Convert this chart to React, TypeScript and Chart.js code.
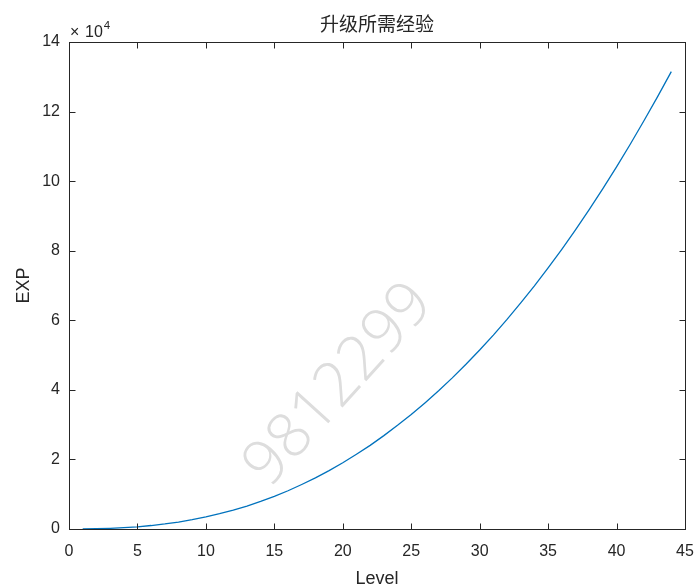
import React, { useEffect, useRef } from "react";
import { Chart, registerables } from "chart.js";

Chart.register(...registerables);

const levels = [
  1, 2, 3, 4, 5, 6, 7, 8, 9, 10, 11, 12, 13, 14, 15, 16, 17, 18, 19, 20, 21, 22,
  23, 24, 25, 26, 27, 28, 29, 30, 31, 32, 33, 34, 35, 36, 37, 38, 39, 40, 41, 42, 43, 44,
];
const expValues = [
  10, 70, 180, 370, 640, 1000, 1450, 2000, 2700, 3500, 4400, 5450, 6600, 7950, 9400,
  11000, 12800, 14700, 16800, 19050, 21500, 24050, 26850, 29800, 32900, 36250, 39750,
  43450, 47350, 51450, 55750, 60250, 65000, 69900, 75050, 80400, 86000, 91800, 97850,
  104100, 110600, 117350, 124300, 131500,
];
const xTicks = [0, 5, 10, 15, 20, 25, 30, 35, 40, 45];
const yTicks = [0, 20000, 40000, 60000, 80000, 100000, 120000, 140000];
const titleText = "升级所需经验";
const xLabel = "Level";
const yLabel = "EXP";
const watermark = "9812299";

const AXIS = "#262626";

const decorPlugin = {
  id: "decor",
  beforeDatasetsDraw(chart: any) {
    const ctx = chart.ctx;
    const area = chart.chartArea;
    ctx.save();
    ctx.beginPath();
    ctx.rect(area.left, area.top, area.right - area.left, area.bottom - area.top);
    ctx.clip();
    ctx.translate(339, 385);
    ctx.rotate((-48 * Math.PI) / 180);
    ctx.fillStyle = "#dddddd";
    ctx.font = '300 62px "Open Sans", "DejaVu Sans", sans-serif';
    ctx.textAlign = "center";
    ctx.textBaseline = "middle";
    ctx.fillText(watermark, 0, 0);
    ctx.restore();
  },
  afterDraw(chart: any) {
    const ctx = chart.ctx;
    const area = chart.chartArea;
    const xs = chart.scales.x;
    const ys = chart.scales.y;
    ctx.save();
    ctx.strokeStyle = AXIS;
    ctx.lineWidth = 1;
    const L = Math.round(area.left) + 0.5;
    const R = Math.round(area.right) + 0.5;
    const T = Math.round(area.top) + 0.5;
    const B = Math.round(area.bottom) + 0.5;
    ctx.strokeRect(L, T, R - L, B - T);
    const tl = 6;
    ctx.beginPath();
    xTicks.forEach((v) => {
      const px = Math.round(xs.getPixelForValue(v)) + 0.5;
      ctx.moveTo(px, B);
      ctx.lineTo(px, B - tl);
      ctx.moveTo(px, T);
      ctx.lineTo(px, T + tl);
    });
    yTicks.forEach((v) => {
      const py = Math.round(ys.getPixelForValue(v)) + 0.5;
      ctx.moveTo(L, py);
      ctx.lineTo(L + tl, py);
      ctx.moveTo(R, py);
      ctx.lineTo(R - tl, py);
    });
    ctx.stroke();

    ctx.fillStyle = AXIS;
    // title
    ctx.font = '19px "Noto Sans CJK SC", sans-serif';
    ctx.textAlign = "center";
    ctx.textBaseline = "middle";
    ctx.fillText(titleText, (area.left + area.right) / 2, 24);

    // x label
    ctx.font = '18px "Liberation Sans", Arial, sans-serif';
    ctx.textBaseline = "alphabetic";
    ctx.fillText(xLabel, (area.left + area.right) / 2, 584);

    // y label
    ctx.save();
    ctx.translate(28.5, (area.top + area.bottom) / 2);
    ctx.rotate(-Math.PI / 2);
    ctx.fillText(yLabel, 0, 0);
    ctx.restore();

    // exponent
    ctx.textAlign = "left";
    ctx.font = '16px "Liberation Sans", Arial, sans-serif';
    const x0 = area.left + 1;
    ctx.fillText("\u00d7", x0, 37);
    ctx.fillText("10", x0 + 15, 37);
    const w = ctx.measureText("10").width;
    ctx.font = '11.5px "Liberation Sans", Arial, sans-serif';
    ctx.fillText("4", x0 + 15 + w + 1, 29);
    ctx.restore();
  },
};

export default function App() {
  const ref = useRef<HTMLCanvasElement | null>(null);
  useEffect(() => {
    if (!ref.current) return;
    const chart = new Chart(ref.current, {
      type: "line",
      data: {
        datasets: [
          {
            data: levels.map((l, i) => ({ x: l, y: expValues[i] })),
            borderColor: "#0072BD",
            borderWidth: 1.3,
            pointRadius: 0,
            tension: 0,
            fill: false,
          },
        ],
      },
      options: {
        responsive: false,
        animation: false,
        layout: { padding: { top: 42, right: 12, left: 0, bottom: 0 } },
        plugins: {
          legend: { display: false },
          tooltip: { enabled: false },
          title: { display: false },
        },
        scales: {
          x: {
            type: "linear",
            min: 0,
            max: 45,
            afterBuildTicks: (s: any) => {
              s.ticks = xTicks.map((v) => ({ value: v }));
            },
            afterFit: (s: any) => {
              s.height = 57;
              s.paddingRight = 0;
              s.paddingLeft = 0;
            },
            grid: { display: false, drawTicks: false },
            border: { display: false },
            ticks: {
              padding: 13,
              color: AXIS,
              font: { family: '"Liberation Sans", Arial, sans-serif', size: 16 },
              maxRotation: 0,
              autoSkip: false,
            },
          },
          y: {
            type: "linear",
            min: 0,
            max: 140000,
            afterBuildTicks: (s: any) => {
              s.ticks = yTicks.map((v) => ({ value: v }));
            },
            afterFit: (s: any) => {
              s.width = 69;
              s.paddingTop = 0;
              s.paddingBottom = 0;
            },
            grid: { display: false, drawTicks: false },
            border: { display: false },
            ticks: {
              padding: 9,
              color: AXIS,
              font: { family: '"Liberation Sans", Arial, sans-serif', size: 16 },
              callback: (v: any) => String(Number(v) / 10000),
              autoSkip: false,
            },
          },
        },
      },
      plugins: [decorPlugin],
    });
    return () => chart.destroy();
  }, []);
  return (
    <div style={{ position: "fixed", left: 0, top: 0, width: 697, height: 586, background: "#fff" }}>
      <canvas ref={ref} width={697} height={586} style={{ display: "block" }} />
    </div>
  );
}
